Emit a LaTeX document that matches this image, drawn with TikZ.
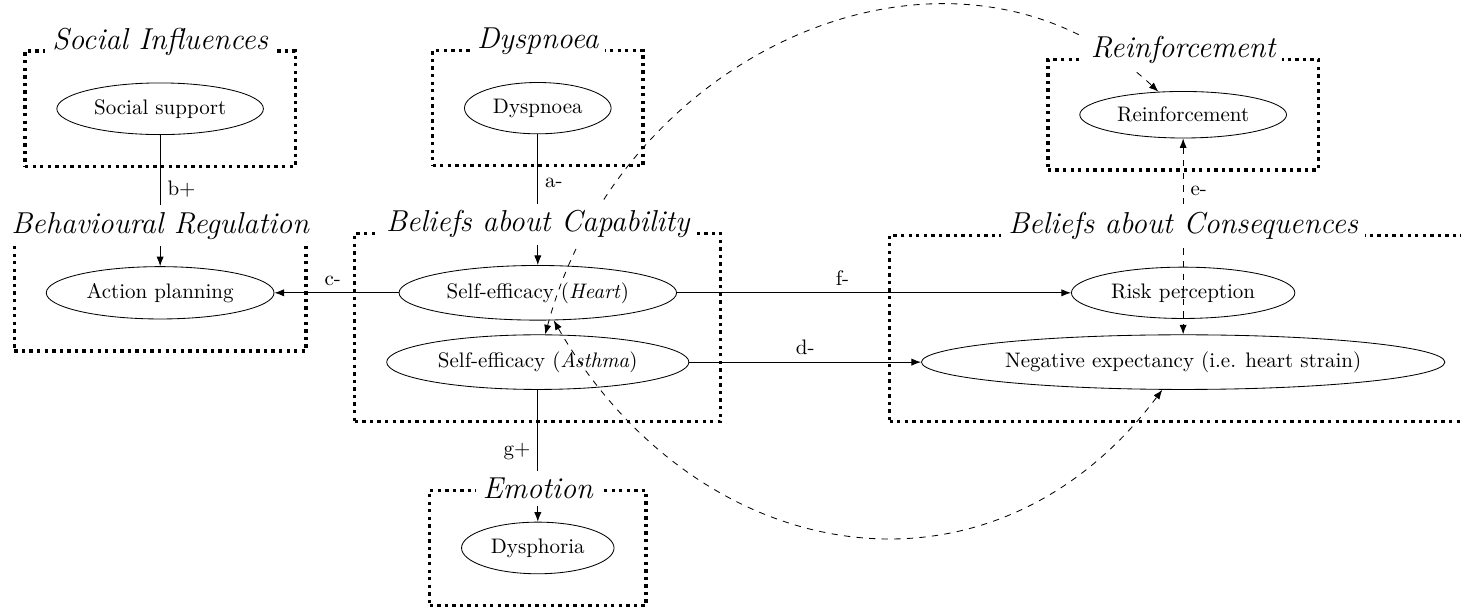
\documentclass[tikz,border=0pt]{standalone}
\usepackage{tikz}
\usetikzlibrary{arrows.meta,positioning,fit,shapes.geometric}

\begin{document}
\begin{tikzpicture}[
concept/.style={ellipse, draw, inner ysep=4.2pt},
tdfbox/.style={draw, ultra thick, dotted, inner sep=15pt},
tdfname/.style={fill=white, font=\Large\itshape, anchor=base},
link/.style={-{Latex[length=1.6mm, width=1.2mm]}},
twoway/.style={{Latex[length=1.6mm, width=1.2mm]}-{Latex[length=1.6mm, width=1.2mm]}, dashed}]
\useasboundingbox (0,0) rectangle (24.45,-10.24);

\node[concept] (support)   at (2.68,-1.82)  {Social support};
\node[concept] (planning)  at (2.68,-4.90)  {Action planning};
\node[concept] (dyspnoea)  at (9.00,-1.81)  {Dyspnoea};
\node[concept] (heart)     at (9.00,-4.90)  {Self-efficacy (\textit{Heart})};
\node[concept] (asthma)    at (9.00,-6.06)  {Self-efficacy (\textit{Asthma})};
\node[concept] (dysphoria) at (9.00,-9.17)  {Dysphoria};
\node[concept] (reinf)     at (19.80,-1.92) {Reinforcement};
\node[concept] (risk)      at (19.80,-4.90) {Risk perception};
\node[concept] (strain)    at (19.80,-6.06) {Negative expectancy (i.e. heart strain)};

% dotted domain frames
\node[tdfbox, fit=(support)] (social-box) {};
\node[tdfbox, fit=(planning)] (regul-box) {};
\node[tdfbox, fit=(dyspnoea)] (dysp-box) {};
\node[tdfbox, fit=(heart)(asthma)] (capab-box) {};
\node[tdfbox, fit=(dysphoria)] (emot-box) {};
\node[tdfbox, fit=(reinf)] (reinf-box) {};
\node[tdfbox, fit=(risk)(strain)] (conseq-box) {};

\path[link]
(support) edge node[pos=0.41, right] {b+} (planning)
(dyspnoea) edge node[pos=0.37, right] {a-} (heart)
(heart) edge node[pos=0.53, above] {c-} (planning)
(heart) edge node[pos=0.42, above] {f-} (risk)
(asthma) edge node[midway, above] {d-} (strain)
(asthma) edge node[pos=0.47, left] {g+} (dysphoria);

\path[twoway]
(reinf) edge node[pos=0.27, right] {e-} (strain)
(asthma) edge[out=75, in=137, out looseness=1.15, in looseness=1.08] (reinf)
(heart) edge[out=-60, in=233, looseness=1.2] (strain);

% frame titles sit on the top edge and hide what runs behind them
\node[tdfname] (social-name) at (social-box.north) {Social Influences};
\node[tdfname] (regul-name)  at (regul-box.north)  {Behavioural Regulation};
\node[tdfname] (dysp-name)   at (dysp-box.north)   {Dyspnoea};
\node[tdfname] (capab-name)  at (capab-box.north)  {Beliefs about Capability};
\node[tdfname, yshift=-0.17cm] (emot-name) at (emot-box.north) {Emotion};
\node[tdfname] (reinf-name)  at (reinf-box.north)  {Reinforcement};
\node[tdfname] (conseq-name) at (conseq-box.north) {Beliefs about Consequences};
\end{tikzpicture}
\end{document}
